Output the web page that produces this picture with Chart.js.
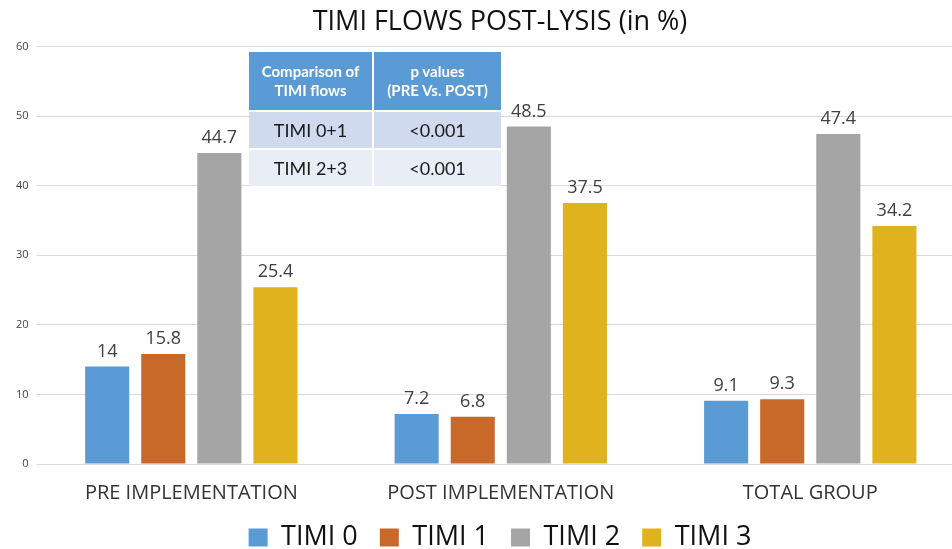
<!DOCTYPE html>
<html>
<head>
<meta charset="utf-8">
<script src="https://cdn.jsdelivr.net/npm/chart.js@4"></script>
<style>
  html, body { margin: 0; padding: 0; background: #fff; overflow: hidden; }
  #wrap { position: relative; width: 952px; height: 549px; overflow: hidden; }
  #pval {
    position: absolute; left: 249px; top: 52px; width: 252px;
    border-collapse: collapse; font-family: Lato, "Open Sans", sans-serif;
    text-align: center;
  }
  #pval th {
    background: #5B9BD5; color: #fff; font-weight: bold; font-size: 15px;
    line-height: 19px; height: 58px; padding: 0; border-right: 2px solid #fff;
  }
  #pval td { font-size: 18px; color: #1a1a1a; height: 36px; padding: 0; border-right: 2px solid #fff; border-top: 2px solid #fff; }
  #pval tr.r1 td { background: #CFDAEE; }
  #pval tr.r2 td { background: #E8EDF6; }
  #pval th:last-child, #pval td:last-child { border-right: none; }
</style>
</head>
<body>
<div id="wrap">
  <canvas id="grafico" width="992" height="549"></canvas>
  <table id="pval">
    <tr><th>Comparison of<br>TIMI flows</th><th>p values<br>(PRE Vs. POST)</th></tr>
    <tr class="r1"><td>TIMI 0+1</td><td>&lt;0.001</td></tr>
    <tr class="r2"><td>TIMI 2+3</td><td>&lt;0.001</td></tr>
  </table>
</div>
<script>
const groups = ['PRE IMPLEMENTATION', 'POST IMPLEMENTATION', 'TOTAL GROUP'];
const seriesNames = ['TIMI 0', 'TIMI 1', 'TIMI 2', 'TIMI 3'];
const timi0 = [14, 7.2, 9.1];
const timi1 = [15.8, 6.8, 9.3];
const timi2 = [44.7, 48.5, 47.4];
const timi3 = [25.4, 37.5, 34.2];
const yTicks = [0, 10, 20, 30, 40, 50, 60];
const colori = ['#5B9BD5', '#C8692A', '#A5A5A5', '#E0B31E'];

const ctx = document.getElementById('grafico');

// etichette sopra le barre
const valueLabels = {
    id: 'valueLabels',
    afterDatasetsDraw(chart) {
        const c = chart.ctx;
        c.save();
        c.font = '18px "Open Sans", sans-serif';
        c.fillStyle = '#404040';
        c.textAlign = 'center';
        c.textBaseline = 'bottom';
        chart.data.datasets.forEach((ds, i) => {
            chart.getDatasetMeta(i).data.forEach((bar, j) => {
                c.fillText(String(ds.data[j]), bar.x, bar.y - 6);
            });
        });
        c.restore();
    }
};

// altezza fissa della legenda
const legendHeight = {
    id: 'legendHeight',
    beforeInit(chart) {
        const orig = chart.legend.fit;
        chart.legend.fit = function () {
            orig.call(this);
            this.height = 47;
        };
    }
};

const data = {
    labels: groups,
    datasets: [timi0, timi1, timi2, timi3].map((vals, i) => ({
        label: seriesNames[i],
        data: vals,
        backgroundColor: colori[i],
        categoryPercentage: 0.725,
        barPercentage: 0.786
    }))
};

const options = {
    responsive: false,
    animation: false,
    layout: { padding: { left: 8, right: 0, top: 0, bottom: 0 } },
    scales: {
        x: {
            grid: { display: false },
            border: { display: false },
            ticks: { color: '#333', font: { family: '"Open Sans", sans-serif', size: 20 }, padding: 9 },
            afterFit(scale) { scale.height = 38; }
        },
        y: {
            min: 0, max: 60,
            afterBuildTicks(scale) { scale.ticks = yTicks.map(v => ({ value: v })); },
            ticks: { color: '#444', font: { family: '"Open Sans", sans-serif', size: 11 }, padding: 8 },
            grid: { color: '#D9D9D9', tickLength: 0 },
            border: { display: false }
        },
        // spazio vuoto a destra del grafico
        yRight: {
            position: 'right',
            min: 0, max: 60,
            grid: { display: false },
            border: { display: false },
            ticks: { display: false },
            afterFit(scale) { scale.width = 27; }
        }
    },
    plugins: {
        legend: {
            position: 'bottom',
            labels: {
                color: '#111',
                font: { family: '"Open Sans", sans-serif', size: 27 },
                boxWidth: 19, boxHeight: 18, padding: 22
            }
        },
        title: {
            display: true,
            text: 'TIMI FLOWS POST-LYSIS (in %)',
            color: '#111',
            font: { family: '"Open Sans", sans-serif', size: 27, weight: 'normal' },
            padding: { top: 6, bottom: 8 }
        },
        tooltip: { enabled: false }
    }
};

new Chart(ctx, {
    type: 'bar',
    data: data,
    options: options,
    plugins: [valueLabels, legendHeight]
});
</script>
</body>
</html>
